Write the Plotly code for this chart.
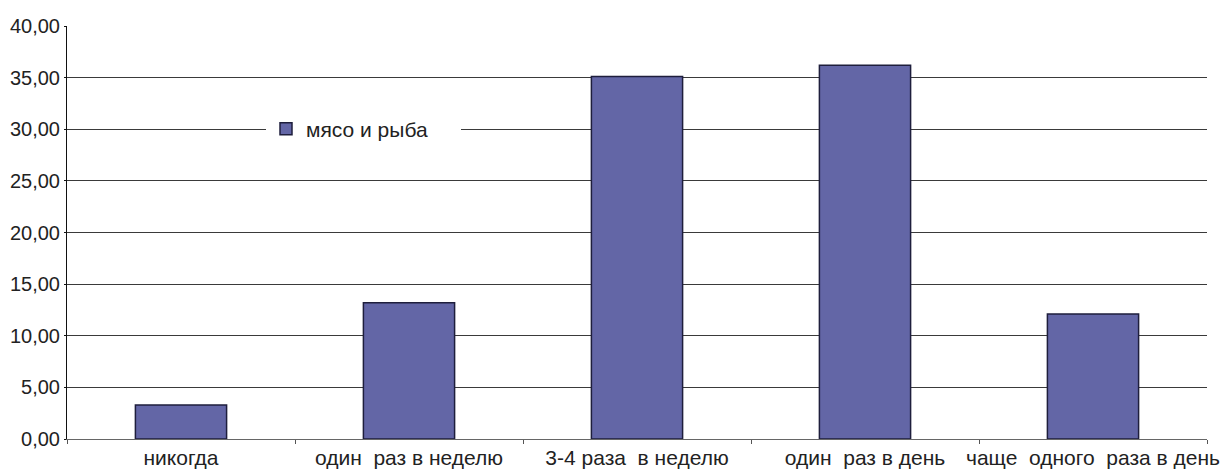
import plotly.graph_objects as go

categories = ["никогда", "один\u00a0 раз в неделю", "3-4 раза\u00a0 в неделю",
              "один\u00a0 раз в день", "чаще\u00a0 одного\u00a0 раза в день"]
values = [3.3, 13.2, 35.1, 36.2, 12.1]
series_name = "мясо и рыба"
y_ticks = [0, 5, 10, 15, 20, 25, 30, 35, 40]
y_tick_labels = ["0,00", "5,00", "10,00", "15,00", "20,00", "25,00", "30,00", "35,00", "40,00"]

fig = go.Figure()
fig.add_trace(go.Bar(
    x=categories, y=values, name=series_name, width=0.4,
    marker=dict(color="#6366A6", line=dict(color="#1E1E3C", width=1.5)),
    showlegend=True,
))

xfont = dict(family="Liberation Sans, Arial, sans-serif", size=21, color="#222222")
yfont = dict(family="Liberation Sans, Arial, sans-serif", size=20, color="#222222")

fig.update_layout(
    width=1229, height=471,
    margin=dict(l=67, r=22, t=26, b=32),
    paper_bgcolor="white", plot_bgcolor="white",
    font=yfont,
    showlegend=True,
    legend=dict(
        x=(266 - 67) / 1140, y=(439 - 129) / 413, xanchor="left", yanchor="middle",
        orientation="h", bgcolor="white", entrywidth=150,
        font=dict(family="Liberation Sans, Arial, sans-serif", size=21, color="#222222"),
    ),
    bargap=0.6,
)
fig.update_xaxes(
    type="category", tickson="boundaries", ticks="outside", ticklen=4,
    tickcolor="#555555", showgrid=False, showline=True, linecolor="#666666",
    linewidth=1, tickfont=xfont, zeroline=False, automargin=False, tickangle=0,
)
fig.update_yaxes(
    range=[0, 40], tickvals=y_ticks, ticktext=y_tick_labels,
    showgrid=True, gridcolor="#3a3a3a", gridwidth=1,
    showline=True, linecolor="#111111", linewidth=1,
    ticks="outside", ticklen=2, tickcolor="#111111",
    tickfont=yfont, zeroline=False, automargin=False,
)

fig.write_html("out.html")
